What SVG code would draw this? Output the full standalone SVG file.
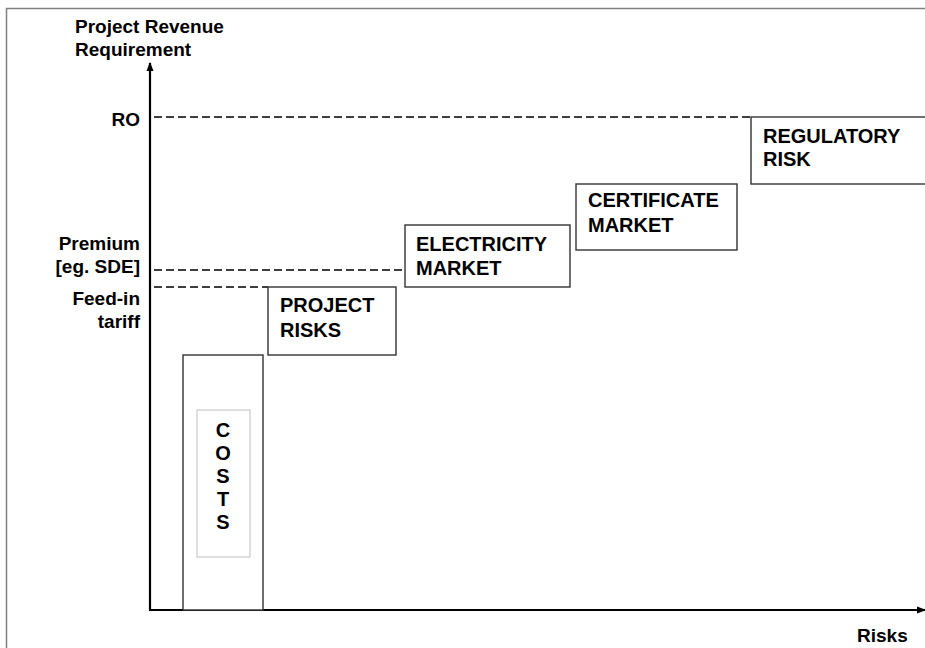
<svg xmlns="http://www.w3.org/2000/svg" width="925" height="648" viewBox="0 0 925 648">
  <style>
    text { font-family: "Liberation Sans", Arial, sans-serif; font-size: 20px; font-weight: bold; fill: #000; }
    .lbl { font-size: 19px; }
    .end { text-anchor: end; }
    .mid { text-anchor: middle; }
    .box { fill: #fff; stroke: #333; stroke-width: 1.4; }
    .inner { fill: #fff; stroke: #c8c8c8; stroke-width: 1.2; }
    .axis { stroke: #000; stroke-width: 2.2; fill: none; }
    .level { stroke: #000; stroke-width: 1.4; stroke-dasharray: 8 4; fill: none; }
    .frame { stroke: #808080; stroke-width: 1.5; fill: none; }
  </style>
  <defs>
    <marker id="arrowhead" markerWidth="9" markerHeight="8" refX="8" refY="4" orient="auto" markerUnits="userSpaceOnUse">
      <path d="M0,0.5 L9,4 L0,7.5 Z" fill="#000"/>
    </marker>
  </defs>

  <rect width="925" height="648" fill="#fff"/>

  <!-- outer frame (top and left edges) -->
  <path class="frame" d="M6.5,648 V8.5 H925"/>

  <!-- axis titles and revenue levels -->
  <g id="axis-labels">
    <text class="lbl" x="75" y="33">Project Revenue</text>
    <text class="lbl" x="75" y="56">Requirement</text>
    <text class="lbl" x="857" y="642">Risks</text>
    <text class="lbl end" x="140" y="126">RO</text>
    <text class="lbl end" x="140" y="250">Premium</text>
    <text class="lbl end" x="140" y="273">[eg. SDE]</text>
    <text class="lbl end" x="140" y="305">Feed-in</text>
    <text class="lbl end" x="140" y="328">tariff</text>
  </g>

  <!-- axes and dashed revenue levels -->
  <g id="connectors">
    <line class="level" x1="154" y1="117" x2="751" y2="117"/>
    <line class="level" x1="154" y1="270" x2="405" y2="270"/>
    <line class="level" x1="154" y1="287" x2="268" y2="287"/>
    <line class="axis" x1="150" y1="611" x2="150" y2="63" marker-end="url(#arrowhead)"/>
    <line class="axis" x1="149" y1="610" x2="925" y2="610" marker-end="url(#arrowhead)"/>
  </g>

  <g id="costs">
    <rect class="box" x="183" y="355" width="80" height="255"/>
    <rect class="inner" x="197" y="410" width="53" height="147"/>
    <text class="mid" x="223" y="437">C</text>
    <text class="mid" x="223" y="460">O</text>
    <text class="mid" x="223" y="483">S</text>
    <text class="mid" x="223" y="506">T</text>
    <text class="mid" x="223" y="529">S</text>
  </g>

  <g id="project-risks">
    <rect class="box" x="268" y="287" width="128" height="68"/>
    <text x="280" y="312">PROJECT</text>
    <text x="280" y="337">RISKS</text>
  </g>

  <g id="electricity-market">
    <rect class="box" x="405" y="225" width="165" height="62"/>
    <text x="416" y="251">ELECTRICITY</text>
    <text x="416" y="275">MARKET</text>
  </g>

  <g id="certificate-market">
    <rect class="box" x="576" y="184" width="161" height="66"/>
    <text x="588" y="207">CERTIFICATE</text>
    <text x="588" y="232">MARKET</text>
  </g>

  <g id="regulatory-risk">
    <rect class="box" x="751" y="117" width="180" height="67"/>
    <text x="763" y="143">REGULATORY</text>
    <text x="763" y="166">RISK</text>
  </g>
</svg>
